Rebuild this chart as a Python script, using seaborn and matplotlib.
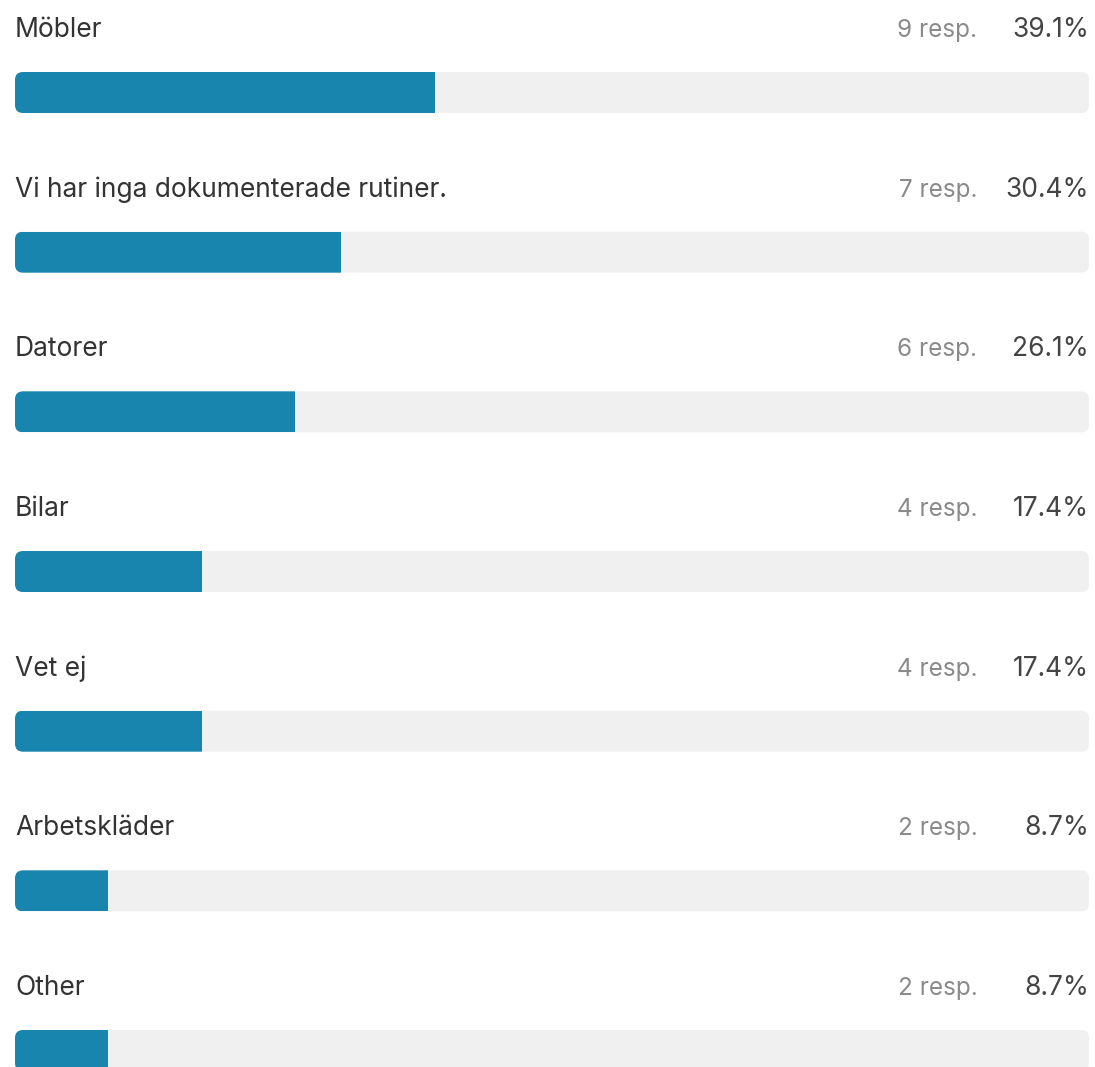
import matplotlib
matplotlib.use("Agg")
import matplotlib.pyplot as plt
from matplotlib.patches import FancyBboxPatch
import seaborn as sns
import pandas as pd

labels = ["Möbler", "Vi har inga dokumenterade rutiner.", "Datorer", "Bilar",
          "Vet ej", "Arbetskläder", "Other"]
responses = [9, 7, 6, 4, 4, 2, 2]
percents = [39.1, 30.4, 26.1, 17.4, 17.4, 8.7, 8.7]

FILL = "#1785ae"
TRACK = "#f0f0f0"

sns.set_theme(style="white")
plt.rcParams['font.family'] = ['Inter', 'DejaVu Sans']

df = pd.DataFrame({"label": labels, "resp": responses, "pct": percents})
df["full"] = 100.0

W, H = 1095, 1067
fig = plt.figure(figsize=(W / 100, H / 100), dpi=100)
ax = fig.add_axes([15 / W, 0, 1074 / W, 1])

bar_w = 41 / 159.67
sns.barplot(data=df, x="full", y="label", color=TRACK, width=bar_w,
            linewidth=0, saturation=1, ax=ax)
n_track = len(ax.patches)
sns.barplot(data=df, x="pct", y="label", color=FILL, width=bar_w,
            linewidth=0, saturation=1, ax=ax)

ax.set_xlim(0, 100)
ax.set_ylim((H - 92.5) / 159.67, -92.5 / 159.67)
ax.axis("off")

# pixel -> data scale for round corners
x_per_px = 100 / 1074
y_per_px = 1 / 159.67
radius = 8 * x_per_px
aspect = y_per_px / x_per_px

patches = list(ax.patches)
tracks = patches[:n_track]
fills = patches[n_track:]
rounded = []
for p in tracks:
    r = FancyBboxPatch((p.get_x(), p.get_y()), p.get_width(), p.get_height(),
                       boxstyle=f"round,pad=0,rounding_size={radius}",
                       mutation_aspect=aspect, facecolor=TRACK,
                       edgecolor="none", zorder=1)
    p.remove()
    ax.add_patch(r)
    rounded.append(r)
# filled part: rounded on the left, square where it stops
for p, r in zip(fills, rounded):
    p.set_zorder(2)
    p.set_clip_path(r)

for i, (lab, n, pc) in enumerate(zip(labels, responses, percents)):
    y = i - 55.5 / 159.67
    ax.text(0, y, lab, fontsize=19, color="#333333", va="baseline", ha="left")
    ax.text(89.6, y, f"{n} resp.", fontsize=17.5, color="#8a8a8a",
            va="baseline", ha="right")
    ax.text(100, y, f"{pc}%", fontsize=19, color="#444444",
            va="baseline", ha="right")

fig.savefig("out.png", dpi=100, facecolor="white")
